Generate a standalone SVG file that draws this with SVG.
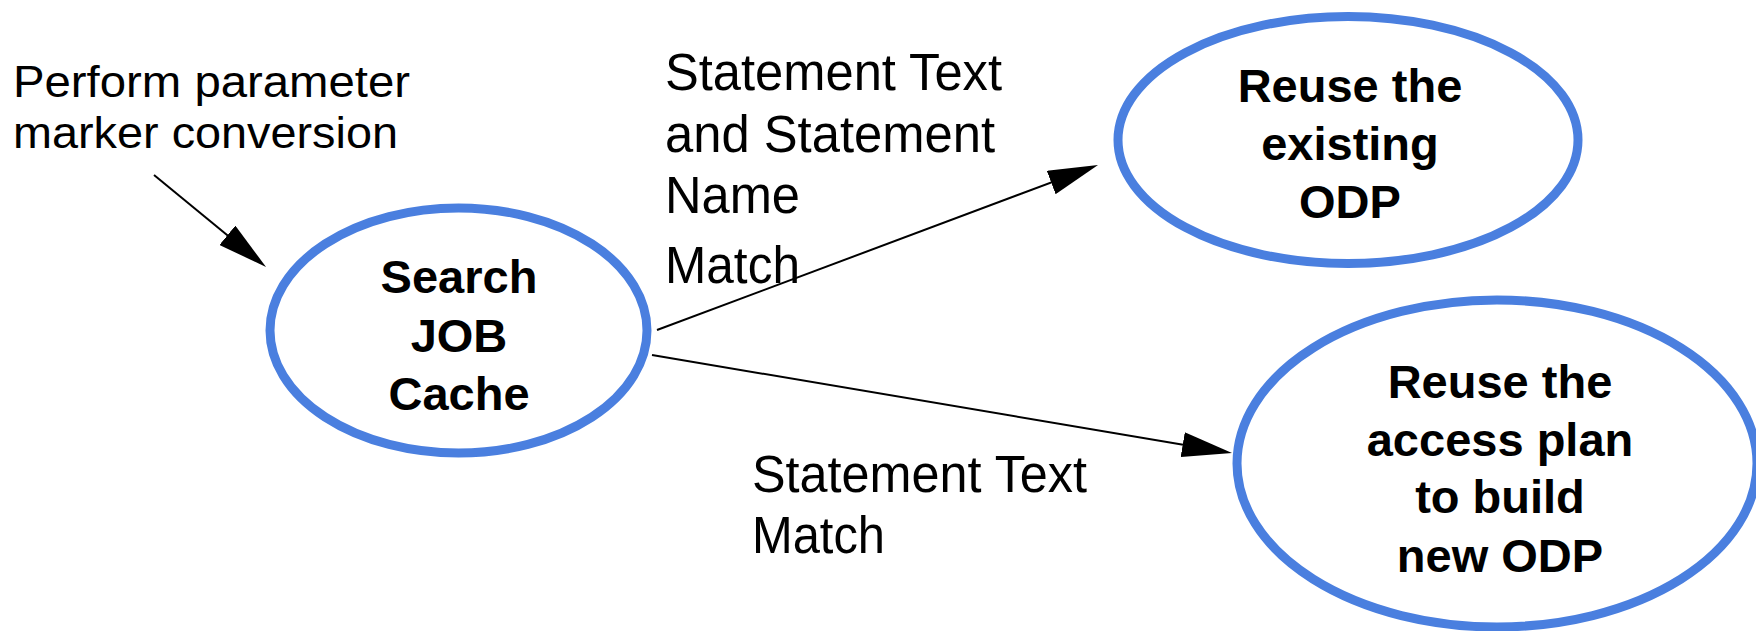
<svg xmlns="http://www.w3.org/2000/svg" width="1756" height="631" viewBox="0 0 1756 631">
  <style>
    .node { fill: #ffffff; stroke: #4a7fdf; stroke-width: 9; }
    .title { font-family: "Liberation Sans", Arial, sans-serif; font-weight: bold; font-size: 47px; fill: #000000; text-anchor: middle; }
    .label { font-family: "Liberation Sans", Arial, sans-serif; font-size: 51px; fill: #000000; }
    .note { font-family: "Liberation Sans", Arial, sans-serif; font-size: 45px; fill: #000000; }
    .edge { fill: none; stroke: #000000; stroke-width: 2; marker-end: url(#arrow); }
  </style>
  <defs>
    <marker id="arrow" markerUnits="userSpaceOnUse" markerWidth="50" markerHeight="25" refX="44" refY="12.5" orient="auto">
      <path d="M0,0 L50,12.5 L0,25 Z" fill="#000000"/>
    </marker>
  </defs>

  <rect width="1756" height="631" fill="#ffffff"/>

  <!-- free-standing note with its pointer into the search step -->
  <g id="note-conversion">
    <text class="note" x="13" y="97" textLength="397" lengthAdjust="spacingAndGlyphs">Perform parameter</text>
    <text class="note" x="13" y="148" textLength="385" lengthAdjust="spacingAndGlyphs">marker conversion</text>
  </g>

  <!-- connectors -->
  <g id="connectors">
    <path class="edge" d="M154,175 L261.4,263.2"/>
    <path class="edge" d="M657,330 L1092.4,167.1"/>
    <path class="edge" d="M652,355 L1226.1,452"/>
  </g>

  <!-- edge labels -->
  <g id="label-name-match">
    <text class="label" x="665" y="90" textLength="337" lengthAdjust="spacingAndGlyphs">Statement Text</text>
    <text class="label" x="665" y="152" textLength="330" lengthAdjust="spacingAndGlyphs">and Statement</text>
    <text class="label" x="665" y="213" textLength="135" lengthAdjust="spacingAndGlyphs">Name</text>
    <text class="label" x="665" y="283" textLength="135" lengthAdjust="spacingAndGlyphs">Match</text>
  </g>
  <g id="label-text-match">
    <text class="label" x="752" y="492" textLength="335" lengthAdjust="spacingAndGlyphs">Statement Text</text>
    <text class="label" x="752" y="553" textLength="133" lengthAdjust="spacingAndGlyphs">Match</text>
  </g>

  <!-- nodes -->
  <g id="node-search">
    <ellipse class="node" cx="458.5" cy="330.5" rx="188.5" ry="122.5"/>
    <text class="title" x="459" y="293">Search</text>
    <text class="title" x="459" y="352">JOB</text>
    <text class="title" x="459" y="410">Cache</text>
  </g>

  <g id="node-reuse-odp">
    <ellipse class="node" cx="1348" cy="140" rx="230" ry="123.5"/>
    <text class="title" x="1350" y="102">Reuse the</text>
    <text class="title" x="1350" y="160">existing</text>
    <text class="title" x="1350" y="218">ODP</text>
  </g>

  <g id="node-reuse-plan">
    <ellipse class="node" cx="1497" cy="463.5" rx="260" ry="163.5"/>
    <text class="title" x="1500" y="398">Reuse the</text>
    <text class="title" x="1500" y="456">access plan</text>
    <text class="title" x="1500" y="513">to build</text>
    <text class="title" x="1500" y="572">new ODP</text>
  </g>
</svg>
